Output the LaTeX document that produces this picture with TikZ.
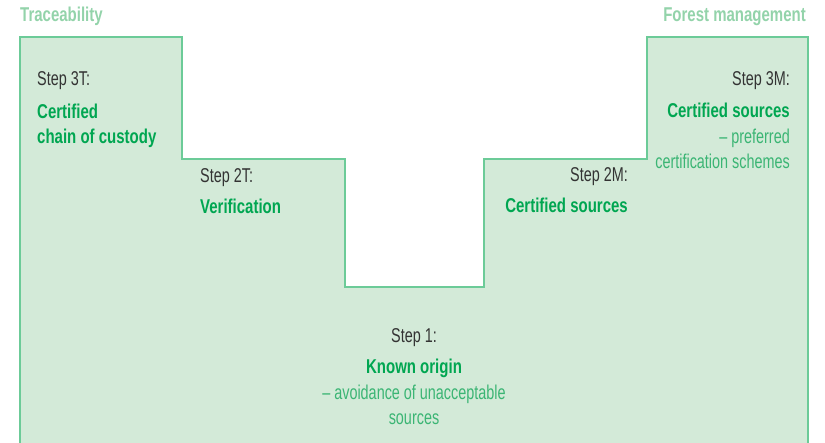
\documentclass[tikz,border=0pt]{standalone}
\usepackage{fontspec}
\setmainfont{Liberation Sans}[FakeStretch=0.72,BoldFeatures={FakeStretch=0.75}]
\definecolor{stepfill}{HTML}{D3EAD8}
\definecolor{stepline}{HTML}{6CCB98}
\definecolor{headgreen}{HTML}{93D3AA}
\definecolor{titlegreen}{HTML}{00A651}
\definecolor{notegreen}{HTML}{3BB574}
\definecolor{steptext}{HTML}{333333}
\tikzset{
  txt/.style={inner sep=0pt, font=\fontsize{20}{24}\selectfont},
  head/.style={txt, font=\fontsize{20}{24}\selectfont\bfseries, text=headgreen},
  steplabel/.style={txt, text=steptext},
  title/.style={txt, font=\fontsize{20}{24}\selectfont\bfseries, text=titlegreen},
  note/.style={txt, text=notegreen}
}
\begin{document}
\begin{tikzpicture}[x=1pt,y=-1pt]
  \useasboundingbox (0,0) rectangle (825,443);

  % the stair shape
  \fill[stepfill] (20,443) -- (20,37) -- (182,37) -- (182,159) -- (345,159) -- (345,287)
    -- (484,287) -- (484,159) -- (647,159) -- (647,37) -- (808,37) -- (808,443) -- cycle;
  \draw[stepline, line width=1.3pt] (20,443) -- (20,37) -- (182,37) -- (182,159) -- (345,159) -- (345,287)
    -- (484,287) -- (484,159) -- (647,159) -- (647,37) -- (808,37) -- (808,443);

  % headings
  \node[head, anchor=base west] (trace) at (20,22) {Traceability};
  \node[head, anchor=base east] (forest) at (806,22) {Forest management};

  % step 3T
  \node[steplabel, anchor=base west] (s3t) at (37,86) {Step 3T:};
  \node[title, anchor=base west] (t3ta) at (37,119) {Certified};
  \node[title, anchor=base west] (t3tb) at (37,144) {chain of custody};

  % step 2T
  \node[steplabel, anchor=base west] (s2t) at (200,183) {Step 2T:};
  \node[title, anchor=base west] (t2t) at (200,214) {Verification};

  % step 2M
  \node[steplabel, anchor=base east] (s2m) at (628,182) {Step 2M:};
  \node[title, anchor=base east] (t2m) at (628,213) {Certified sources};

  % step 3M
  \node[steplabel, anchor=base east] (s3m) at (790,86) {Step 3M:};
  \node[title, anchor=base east] (t3m) at (790,118) {Certified sources};
  \node[note, anchor=base east] (n3ma) at (790,144) {-- preferred};
  \node[note, anchor=base east] (n3mb) at (790,169) {certification schemes};

  % step 1
  \node[steplabel, anchor=base] (s1) at (414,343) {Step 1:};
  \node[title, anchor=base] (t1) at (414,374) {Known origin};
  \node[note, anchor=base] (n1a) at (414,400) {-- avoidance of unacceptable};
  \node[note, anchor=base] (n1b) at (414,425) {sources};
\end{tikzpicture}
\end{document}
